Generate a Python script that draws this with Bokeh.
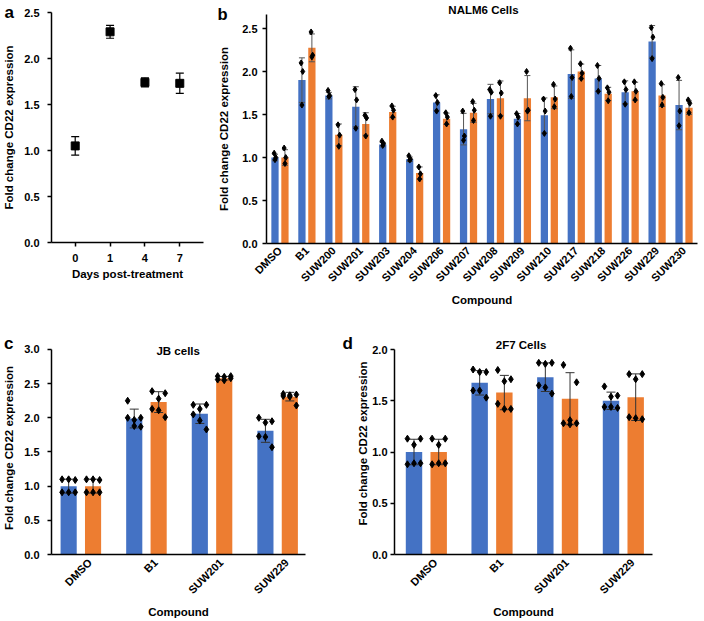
import numpy as np
from bokeh.plotting import figure
from bokeh.layouts import row, column
from bokeh.models import FixedTicker, PrintfTickFormatter, Label, Range1d
from bokeh.embed import file_html
from bokeh.resources import INLINE

FONT = "Liberation Sans"
BLUE = "#4472C4"
ORANGE = "#ED7D31"

# ---------------- data ----------------
# panel a
days = ["0", "1", "4", "7"]
a_mean = [1.05, 2.29, 1.74, 1.73]
a_err = [0.10, 0.07, 0.05, 0.11]

# panel b (NALM6 cells)
b_compounds = ["DMSO", "B1", "SUW200", "SUW201", "SUW203", "SUW204", "SUW206", "SUW207",
               "SUW208", "SUW209", "SUW210", "SUW217", "SUW218", "SUW226", "SUW229", "SUW230"]
b_blue = [1.00, 1.90, 1.72, 1.59, 1.15, 0.98, 1.64, 1.33, 1.68, 1.45, 1.49, 1.97, 1.92, 1.76, 2.35, 1.61]
b_orange = [1.00, 2.275, 1.265, 1.39, 1.53, 0.82, 1.45, 1.52, 1.69, 1.69, 1.70, 2.00, 1.74, 1.77, 1.72, 1.58]
b_blue_pts = [[1.05, 1.00, 0.975], [2.10, 2.00, 1.61], [1.78, 1.72, 1.71], [1.79, 1.67, 1.34],
              [1.19, 1.16, 1.14], [1.02, 0.98, 0.97], [1.72, 1.64, 1.54], [1.54, 1.25, 1.20],
              [1.79, 1.76, 1.48], [1.51, 1.47, 1.39], [1.68, 1.54, 1.28], [2.27, 1.93, 1.71],
              [2.07, 1.92, 1.77], [1.88, 1.79, 1.62], [2.51, 2.40, 2.15], [1.93, 1.54, 1.37]]
b_orange_pts = [[1.11, 1.00, 0.93], [2.46, 2.19, 2.17], [1.38, 1.26, 1.13], [1.49, 1.46, 1.25],
                [1.60, 1.55, 1.47], [0.89, 0.81, 0.75], [1.52, 1.47, 1.39], [1.65, 1.55, 1.43],
                [1.87, 1.75, 1.48], [2.00, 1.55, 1.54], [1.85, 1.68, 1.59], [2.09, 1.98, 1.92],
                [1.81, 1.76, 1.66], [1.88, 1.77, 1.67], [1.86, 1.70, 1.61], [1.67, 1.63, 1.52]]

# panel c (JB cells)
c_compounds = ["DMSO", "B1", "SUW201", "SUW229"]
c_blue = [1.00, 1.99, 2.06, 1.81]
c_orange = [1.00, 2.23, 2.58, 2.31]
c_blue_pts = [[1.10, 1.09, 1.10, 0.91, 0.91, 0.91], [2.25, 2.00, 1.97, 2.00, 1.88, 1.87],
              [2.19, 2.19, 2.13, 2.05, 1.96, 1.83], [2.00, 1.95, 1.93, 1.73, 1.72, 1.57]]
c_orange_pts = [[1.10, 1.09, 1.10, 0.91, 0.91, 0.91], [2.39, 2.36, 2.28, 2.13, 2.11, 2.01],
                [2.61, 2.61, 2.60, 2.56, 2.55, 2.58], [2.35, 2.34, 2.33, 2.32, 2.31, 2.18]]

# panel d (2F7 cells)
d_compounds = ["DMSO", "B1", "SUW201", "SUW229"]
d_blue = [1.00, 1.675, 1.73, 1.50]
d_orange = [1.00, 1.58, 1.52, 1.535]
d_blue_pts = [[1.13, 1.13, 1.07, 0.88, 0.89, 0.89], [1.805, 1.78, 1.78, 1.60, 1.60, 1.53],
              [1.87, 1.87, 1.86, 1.65, 1.63, 1.57], [1.64, 1.55, 1.54, 1.44, 1.44, 1.43]]
d_orange_pts = [[1.13, 1.13, 1.07, 0.88, 0.89, 0.89], [1.80, 1.71, 1.69, 1.47, 1.42, 1.42],
                [1.85, 1.68, 1.31, 1.28, 1.27, 1.28], [1.76, 1.76, 1.71, 1.34, 1.33, 1.32]]

y_title = "Fold change CD22 expression"
x_title = "Compound"

GEOM = {}


# ---------------- helpers ----------------
def make_fig(x0, y0, w, h, fl, fr, ft, fb, xr, yr):
    """Figure whose plot frame occupies page pixels fl..fr / ft..fb."""
    p = figure(width=w, height=h, x_range=Range1d(*xr), y_range=Range1d(*yr),
               output_backend="svg", toolbar_location=None, frame_align=False,
               min_border_left=fl - x0, min_border_right=x0 + w - fr,
               min_border_top=ft - y0, min_border_bottom=y0 + h - fb)
    GEOM[p.id] = (fl, fr, ft, fb)
    p.outline_line_color = None
    p.xgrid.visible = False
    p.ygrid.visible = False
    for ax in p.axis:
        ax.axis_line_color = "black"
        ax.axis_line_width = 1.5
        ax.major_tick_line_color = "black"
        ax.major_tick_line_width = 1.5
        ax.minor_tick_line_color = None
        ax.major_tick_in = 0
        ax.major_label_text_font = FONT
        ax.major_label_text_font_style = "bold"
        ax.major_label_text_font_size = "11px"
        ax.major_label_text_color = "black"
        ax.axis_label_text_font = FONT
        ax.axis_label_text_font_style = "bold"
        ax.axis_label_text_font_size = "11.5px"
        ax.axis_label_text_color = "black"
    p.yaxis.major_tick_out = 4
    p.xaxis.major_tick_out = 0
    return p


def add_text(p, place, text, px, py, size, align="left"):
    """Text at page position (px, py = baseline); side-panel texts are not clipped."""
    fl, fr, ft, fb = GEOM[p.id]
    xs, xe = p.x_range.start, p.x_range.end
    ys, ye = p.y_range.start, p.y_range.end
    x = xs + (px - fl) / (fr - fl) * (xe - xs)
    y = ye - (py - ft) / (fb - ft) * (ye - ys)
    lab = Label(x=x, y=y, text=text, text_font=FONT, text_font_style="bold",
                text_font_size=size, text_align=align, text_baseline="alphabetic",
                text_color="black")
    if place == "center":
        p.add_layout(lab)
    else:
        p.add_layout(lab, place)


def bar_panel(p, cats, blue, orange, blue_pts, orange_pts, off, bw, jit, psize, cap, ecol):
    xs = np.arange(len(cats))
    for vals, pts, dx, col in ((blue, blue_pts, -off, BLUE), (orange, orange_pts, off, ORANGE)):
        x = xs + dx
        p.vbar(x=x, top=vals, width=bw, fill_color=col, line_color=None)
        pts_arr = np.array(pts)
        sd = pts_arr.std(axis=1, ddof=1)
        hi = np.array(vals) + sd
        lo = np.array(vals) - sd
        p.segment(x0=x, y0=lo, x1=x, y1=hi, line_color=ecol, line_width=1)
        p.scatter(x=np.concatenate([x, x]), y=np.concatenate([hi, lo]), marker="dash",
                  size=cap, line_color=ecol, line_width=1)
        n = pts_arr.shape[1]
        px = (x[:, None] + np.array(jit[:n])[None, :]).ravel()
        p.scatter(x=px, y=pts_arr.ravel(), marker="diamond", size=psize,
                  fill_color="black", line_color="black")


def cat_axis(p, cats, shift, angle):
    xs = np.arange(len(cats)) + shift
    p.xaxis.ticker = FixedTicker(ticks=[float(v) for v in xs])
    p.xaxis.major_label_overrides = {float(v): c for v, c in zip(xs, cats)}
    if angle:
        p.xaxis.major_label_orientation = angle


def y_ticks(p, ticks, top):
    p.yaxis.ticker = FixedTicker(ticks=ticks)
    p.yaxis.formatter = PrintfTickFormatter(format="%.1f")
    p.yaxis.bounds = (0, top)


JIT6 = [-0.1, 0.1, 0.0, -0.1, 0.0, 0.1]
TOP_H = 327
SPLIT = 354  # x where panel d's figure starts

# ---------------- panel a ----------------
pa = make_fig(0, 0, 206, TOP_H, 48, 203, 12, 242, (-0.68, 3.68), (0, 2.5))
xa = np.arange(len(days))
a_lo = np.array(a_mean) - np.array(a_err)
a_hi = np.array(a_mean) + np.array(a_err)
pa.segment(x0=xa, y0=a_lo, x1=xa, y1=a_hi, line_color="black", line_width=1.2)
pa.scatter(x=np.concatenate([xa, xa]), y=np.concatenate([a_hi, a_lo]), marker="dash",
           size=8, line_color="black", line_width=1.2)
pa.scatter(x=xa, y=a_mean, marker="square", size=8, fill_color="black", line_color="black")
cat_axis(pa, days, 0.0, None)
pa.xaxis.major_tick_out = 4
pa.xaxis.major_label_standoff = 7
pa.xaxis.axis_label = "Days post-treatment"
pa.xaxis.axis_label_standoff = 3
y_ticks(pa, [0, 0.5, 1.0, 1.5, 2.0, 2.5], 2.5)
pa.yaxis.major_label_standoff = 8
pa.yaxis.axis_label = y_title
pa.yaxis.axis_label_standoff = 6
add_text(pa, "below", "a", 0, 11.5, "17px")

# ---------------- panel b ----------------
pb = make_fig(206, 0, 498, TOP_H, 266, 697, 14, 243, (-0.5, 15.5), (0, 2.663))
bar_panel(pb, b_compounds, b_blue, b_orange, b_blue_pts, b_orange_pts, 0.185, 0.27,
          [-0.03, 0.03, 0.0], 6, 6, "#555555")
cat_axis(pb, b_compounds, 0.0, np.pi / 4)
pb.xaxis.major_label_standoff = 5
pb.xaxis.axis_label = x_title
pb.xaxis.axis_label_standoff = 3
y_ticks(pb, [0, 0.5, 1.0, 1.5, 2.0, 2.5], 2.663)
pb.yaxis.major_label_standoff = 5
pb.yaxis.axis_label = y_title
pb.yaxis.axis_label_standoff = 9
add_text(pb, "below", "b", 217, 13, "16.5px")
add_text(pb, "above", "NALM6 Cells", 483, 9.5, "11.5px", align="center")

# ---------------- panel c ----------------
pc = make_fig(0, TOP_H, SPLIT, 621 - TOP_H, 48, 305, 341, 554, (-0.4475, 3.425), (0, 3.117))
bar_panel(pc, c_compounds, c_blue, c_orange, c_blue_pts, c_orange_pts, 0.186, 0.246,
          JIT6, 7, 9, "#333333")
cat_axis(pc, c_compounds, 0.14, np.pi / 4)
pc.xaxis.major_label_standoff = 6
pc.xaxis.axis_label = x_title
pc.xaxis.axis_label_standoff = 3
y_ticks(pc, [0, 0.5, 1.0, 1.5, 2.0, 2.5, 3.0], 3.0)
pc.yaxis.major_label_standoff = 8
pc.yaxis.axis_label = y_title
pc.yaxis.axis_label_standoff = 6
add_text(pc, "right", "c", 0, 343, "17px")
add_text(pc, "right", "d", 342.5, 343, "17px")
add_text(pc, "center", "JB cells", 176.2, 350, "11.5px", align="center")

# ---------------- panel d ----------------
pd = make_fig(SPLIT, TOP_H, 704 - SPLIT, 621 - TOP_H, 391, 652, 332, 554, (-0.485, 3.444), (0, 2.166))
bar_panel(pd, d_compounds, d_blue, d_orange, d_blue_pts, d_orange_pts, 0.188, 0.25,
          JIT6, 7, 9, "#333333")
cat_axis(pd, d_compounds, 0.14, np.pi / 4)
pd.xaxis.major_label_standoff = 6
pd.xaxis.axis_label = x_title
pd.xaxis.axis_label_standoff = 3
y_ticks(pd, [0, 0.5, 1.0, 1.5, 2.0], 2.0)
pd.yaxis.major_label_standoff = 3
pd.yaxis.axis_label = y_title
pd.yaxis.axis_label_standoff = 0
add_text(pd, "center", "2F7 Cells", 519, 344, "11.5px", align="center")

layout = column(row(pa, pb), row(pc, pd))
open("out.html", "w").write(file_html(layout, INLINE))
